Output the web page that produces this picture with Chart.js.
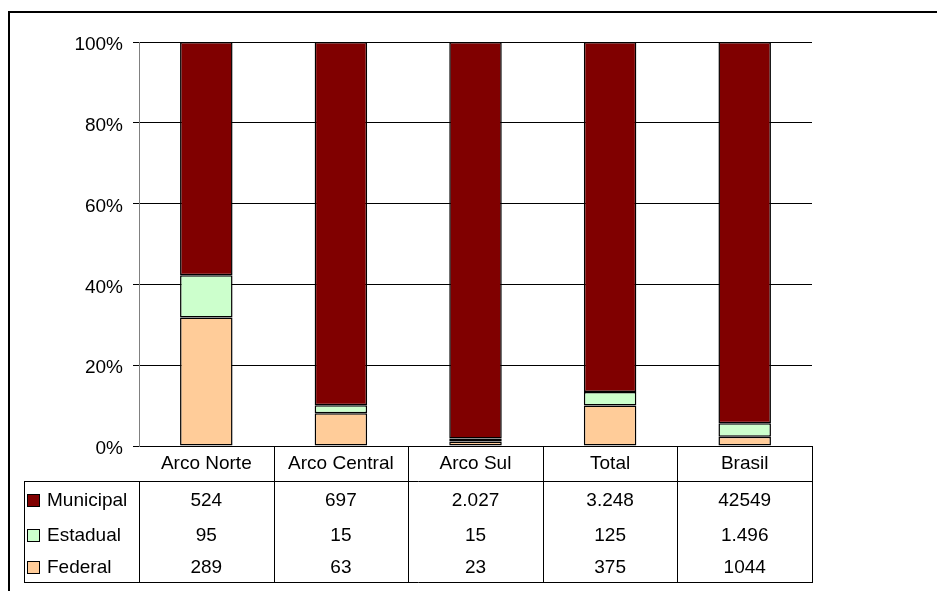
<!DOCTYPE html>
<html>
<head>
<meta charset="utf-8">
<script src="https://cdn.jsdelivr.net/npm/chart.js@4.4.1/dist/chart.umd.min.js"></script>
<style>
  html, body { margin: 0; padding: 0; background: #fff; }
  canvas { display: block; }
</style>
</head>
<body>
<canvas id="chart" width="937" height="591"></canvas>
<script>
var categories = ["Arco Norte", "Arco Central", "Arco Sul", "Total", "Brasil"];
var municipal = [524, 697, 2027, 3248, 42549];
var estadual = [95, 15, 15, 125, 1496];
var federal = [289, 63, 23, 375, 1044];
var yTicks = [0, 20, 40, 60, 80, 100];

// numbers as they are printed in the table
var municipalText = ["524", "697", "2.027", "3.248", "42549"];
var estadualText = ["95", "15", "15", "125", "1.496"];
var federalText = ["289", "63", "23", "375", "1044"];

var FONT = "Arial, 'Liberation Sans', sans-serif";
var FONT_SIZE = 19;

function share(arr) {
  return arr.map(function (v, i) {
    return v / (municipal[i] + estadual[i] + federal[i]) * 100;
  });
}

// table rows, top to bottom
var rows = [
  { name: "Municipal", color: "#800000", text: municipalText },
  { name: "Estadual", color: "#CCFFCC", text: estadualText },
  { name: "Federal", color: "#FFCC99", text: federalText }
];

var dataTable = {
  id: "dataTable",
  afterDraw: function (chart) {
    var ctx = chart.ctx;
    var area = chart.chartArea;
    var x = chart.scales.x;
    var n = categories.length;
    var step = (area.right - area.left) / n;
    var top = area.bottom;
    var headBottom = top + 35;
    var tableBottom = 582;
    var legendLeft = 24;
    var rowY = [500, 535, 567];

    ctx.save();

    // outer frame
    ctx.strokeStyle = "#000";
    ctx.lineWidth = 2;
    ctx.beginPath();
    ctx.moveTo(9, 591);
    ctx.lineTo(9, 12);
    ctx.lineTo(937, 12);
    ctx.stroke();

    ctx.lineWidth = 1;
    ctx.strokeStyle = "#000";
    ctx.beginPath();
    // column separators
    for (var i = 1; i <= n; i++) {
      var cx = Math.round(area.left + step * i) + 0.5;
      ctx.moveTo(cx, top);
      ctx.lineTo(cx, tableBottom);
    }
    ctx.moveTo(area.left + 0.5, headBottom);
    ctx.lineTo(area.left + 0.5, tableBottom);
    // horizontal rules
    ctx.moveTo(legendLeft, headBottom + 0.5);
    ctx.lineTo(area.right + 1, headBottom + 0.5);
    ctx.moveTo(legendLeft, tableBottom + 0.5);
    ctx.lineTo(area.right + 1, tableBottom + 0.5);
    ctx.moveTo(legendLeft + 0.5, headBottom);
    ctx.lineTo(legendLeft + 0.5, tableBottom);
    ctx.stroke();

    ctx.fillStyle = "#000";
    ctx.font = FONT_SIZE + "px " + FONT;
    ctx.textAlign = "center";
    ctx.textBaseline = "middle";
    categories.forEach(function (c, i) {
      ctx.fillText(c, x.getPixelForValue(i), top + 18);
    });

    rows.forEach(function (r, j) {
      var y = rowY[j];
      ctx.fillStyle = r.color;
      ctx.fillRect(27, y - 6, 12, 12);
      ctx.strokeStyle = "#000";
      ctx.strokeRect(27.5, y - 5.5, 12, 12);
      ctx.fillStyle = "#000";
      ctx.textAlign = "left";
      ctx.fillText(r.name, 47, y + 1);
      ctx.textAlign = "center";
      r.text.forEach(function (t, i) {
        ctx.fillText(t, x.getPixelForValue(i), y + 1);
      });
    });

    ctx.restore();
  }
};

var ctx = document.getElementById("chart").getContext("2d");

new Chart(ctx, {
  type: "bar",
  data: {
    labels: categories,
    datasets: [
      { label: "Federal", data: share(federal), backgroundColor: "#FFCC99" },
      { label: "Estadual", data: share(estadual), backgroundColor: "#CCFFCC" },
      { label: "Municipal", data: share(municipal), backgroundColor: "#800000" }
    ].map(function (d) {
      d.borderColor = "#000";
      d.borderWidth = 1.5;
      d.borderSkipped = false;
      d.barPercentage = 0.39;
      d.categoryPercentage = 1.0;
      return d;
    })
  },
  options: {
    responsive: false,
    animation: false,
    layout: { padding: { left: 0, top: 42, right: 125, bottom: 145 } },
    plugins: {
      legend: { display: false },
      tooltip: { enabled: false }
    },
    scales: {
      x: {
        stacked: true,
        ticks: { display: false },
        grid: { display: false },
        border: { display: true, color: "#000", width: 1 },
        afterFit: function (scale) { scale.height = 0; }
      },
      y: {
        stacked: true,
        min: 0,
        max: 100,
        afterBuildTicks: function (scale) {
          scale.ticks = yTicks.map(function (v) { return { value: v }; });
        },
        ticks: {
          color: "#000",
          padding: 10,
          labelOffset: 3,
          font: { size: FONT_SIZE, family: FONT },
          callback: function (v) { return v + "%"; }
        },
        grid: { color: "#000", lineWidth: 1, tickLength: 6 },
        border: { display: true, color: "#808080", width: 1 },
        afterFit: function (scale) { scale.width = 139; }
      }
    }
  },
  plugins: [dataTable]
});
</script>
</body>
</html>
